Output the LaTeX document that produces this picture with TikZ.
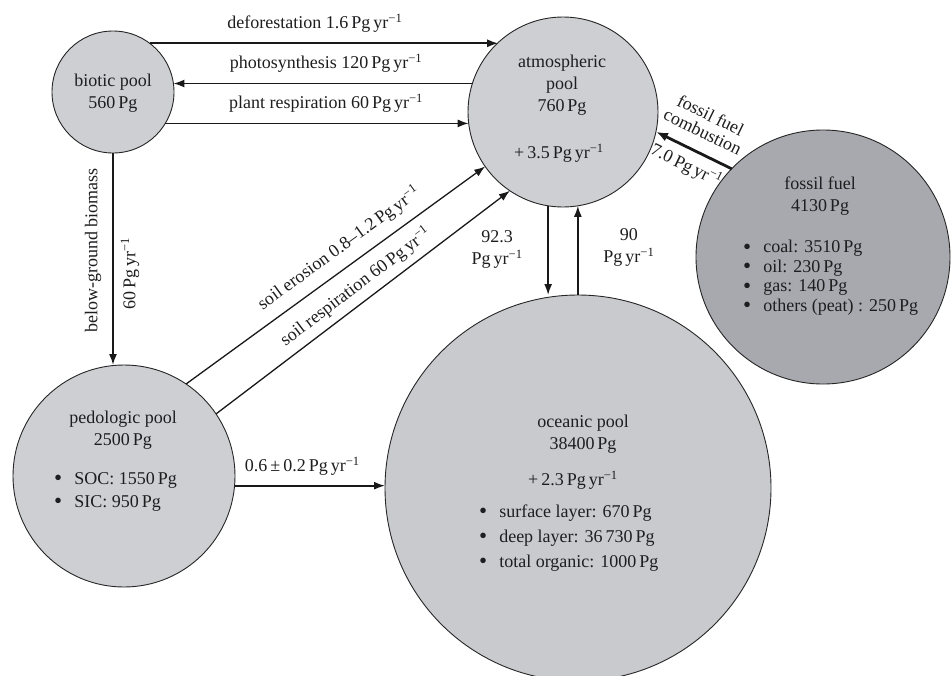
\documentclass[tikz,border=0pt]{standalone}
\usepackage{fontspec}
\setmainfont{Liberation Serif}
\usetikzlibrary{arrows.meta,calc}
\newcommand{\pgyr}{Pg\,yr\textsuperscript{−1}}
\newcommand{\bigbul}{\raisebox{-1.4pt}{\fontsize{23}{22}\selectfont •}}
\definecolor{poolgray}{RGB}{206,207,211}
\definecolor{oceangray}{RGB}{201,202,206}
\definecolor{fossgray}{RGB}{168,169,174}
\definecolor{inkgray}{RGB}{30,30,32}
\begin{document}
\begin{tikzpicture}[x=1pt,y=-1pt,
  pool/.style={circle, draw=black!85, line width=0.9pt, fill=poolgray, inner sep=0pt, outer sep=0pt},
  txt/.style={font=\fontsize{18}{22}\selectfont, text=inkgray, align=center, inner sep=0pt},
  lab/.style={font=\fontsize{18}{22}\selectfont, text=inkgray, inner sep=1pt},
  flow/.style={line width=1.7pt, draw=black!90, -{Latex[length=11pt,width=8pt]}},
  thinflow/.style={flow, line width=1.3pt},
  bullets/.style={txt, anchor=west, align=left}
]
\useasboundingbox (0,0) rectangle (952,675);
\fill[white] (0,0) rectangle (952,675);

% pools
\node[pool, minimum size=122pt] (bio) at (113,92) {};
\node[pool, minimum size=190pt] (atm) at (563,112) {};
\node[pool, minimum size=222pt] (ped) at (124,476) {};
\node[pool, fill=oceangray, minimum size=386pt] (ocean) at (578,488) {};
\node[pool, fill=fossgray, minimum size=254pt] (foss) at (823,257) {};

% pool texts
\node[txt] (bioT) at (113,93) {biotic pool\\560\,Pg};
\node[txt] (atmT) at (562,85) {atmospheric\\pool\\760\,Pg};
\node[txt] (atmR) at (559,153) {+\,3.5\,\pgyr};
\node[txt] (pedT) at (123,430) {pedologic pool\\2500\,Pg};
\node[bullets] (pedL) at (54,491.5) {\begin{tabular}{@{}l@{\hspace{12pt}}l@{}}\bigbul&SOC: 1550\,Pg\\[1pt]\bigbul&SIC: 950\,Pg\end{tabular}};
\node[txt] (oceT) at (583,434) {oceanic pool\\38400\,Pg};
\node[txt] (oceR) at (573,480) {+\,2.3\,\pgyr};
\node[bullets] (oceL) at (479,538) {\begin{tabular}{@{}l@{\hspace{12pt}}l@{}}\bigbul&surface layer: 670\,Pg\\[3pt]\bigbul&deep layer: 36\,730\,Pg\\[3pt]\bigbul&total organic: 1000\,Pg\end{tabular}};
\node[txt] (fosT) at (820,196) {fossil fuel\\4130\,Pg};
\node[bullets] (fosL) at (743,277.5) {\begin{tabular}{@{}l@{\hspace{12pt}}l@{}}\bigbul&coal: 3510\,Pg\\[-2.5pt]\bigbul&oil: 230\,Pg\\[-2.5pt]\bigbul&gas: 140\,Pg\\[-2.5pt]\bigbul&others (peat) : 250\,Pg\end{tabular}};

% biotic <-> atmosphere
\draw[flow] (bio.53) -- (bio.53 -| atm.133)
  node[lab, pos=0.474, above=9pt] {deforestation 1.6\,\pgyr};
\draw[flow] (bio.8 -| atm.162) -- (bio.8)
  node[lab, pos=0.49, above=9pt] {photosynthesis 120\,\pgyr};
\draw[flow] (bio.-31) -- (bio.-31 -| atm.187)
  node[lab, pos=0.53, above=9pt] {plant respiration 60\,\pgyr};

% biotic -> pedologic
\draw[flow] (bio.south) -- (bio.south |- ped.north)
  coordinate[pos=0.46] (bgA) coordinate[pos=0.57] (bgB);
\node[lab, rotate=90] (bgLab) at ([xshift=-20pt]bgA) {below-ground biomass};
\node[lab, rotate=90] (bgVal) at ([xshift=17pt]bgB) {60\,\pgyr};

% pedologic -> atmosphere
\draw[thinflow] (ped.56) -- (atm.215)
  node[lab, sloped, pos=0.55, above=9pt] {soil erosion 0.8–1.2\,\pgyr};
\draw[thinflow] (ped.34) -- (atm.236)
  node[lab, sloped, pos=0.51, above=6pt] {soil respiration 60\,\pgyr};

% pedologic -> ocean
\draw[flow] (ped.-5) -- (ped.-5 -| ocean.west)
  node[lab, pos=0.45, above=8pt] {0.6\,±\,0.2\,\pgyr};

% atmosphere <-> ocean
\draw[flow] (atm.261) -- (atm.261 |- ocean.north) coordinate[pos=0.49] (dnM);
\draw[flow] (ocean.north -| atm.279) -- (atm.279) coordinate[pos=0.53] (upM);
\node[lab, align=center] (dnLab) at ([xshift=-51pt]dnM) {92.3\\\pgyr};
\node[lab, align=center] (upLab) at ([xshift=51pt]upM) {90\\\pgyr};

% fossil fuel -> atmosphere
\draw[line width=2.8pt, draw=black!90, -{Latex[length=12pt,width=9pt]}] (foss.136) -- (atm.-12)
  coordinate[pos=0.5] (fcM);
\node[lab, rotate=-26, align=center, font=\fontsize{18}{18}\selectfont] (fcLab) at ($(fcM)+(13,-27)$) {fossil fuel\\combustion};
\node[lab, rotate=-26] (fcVal) at ($(fcM)+(-7.5,15.5)$) {7.0\,\pgyr};
\end{tikzpicture}
\end{document}
